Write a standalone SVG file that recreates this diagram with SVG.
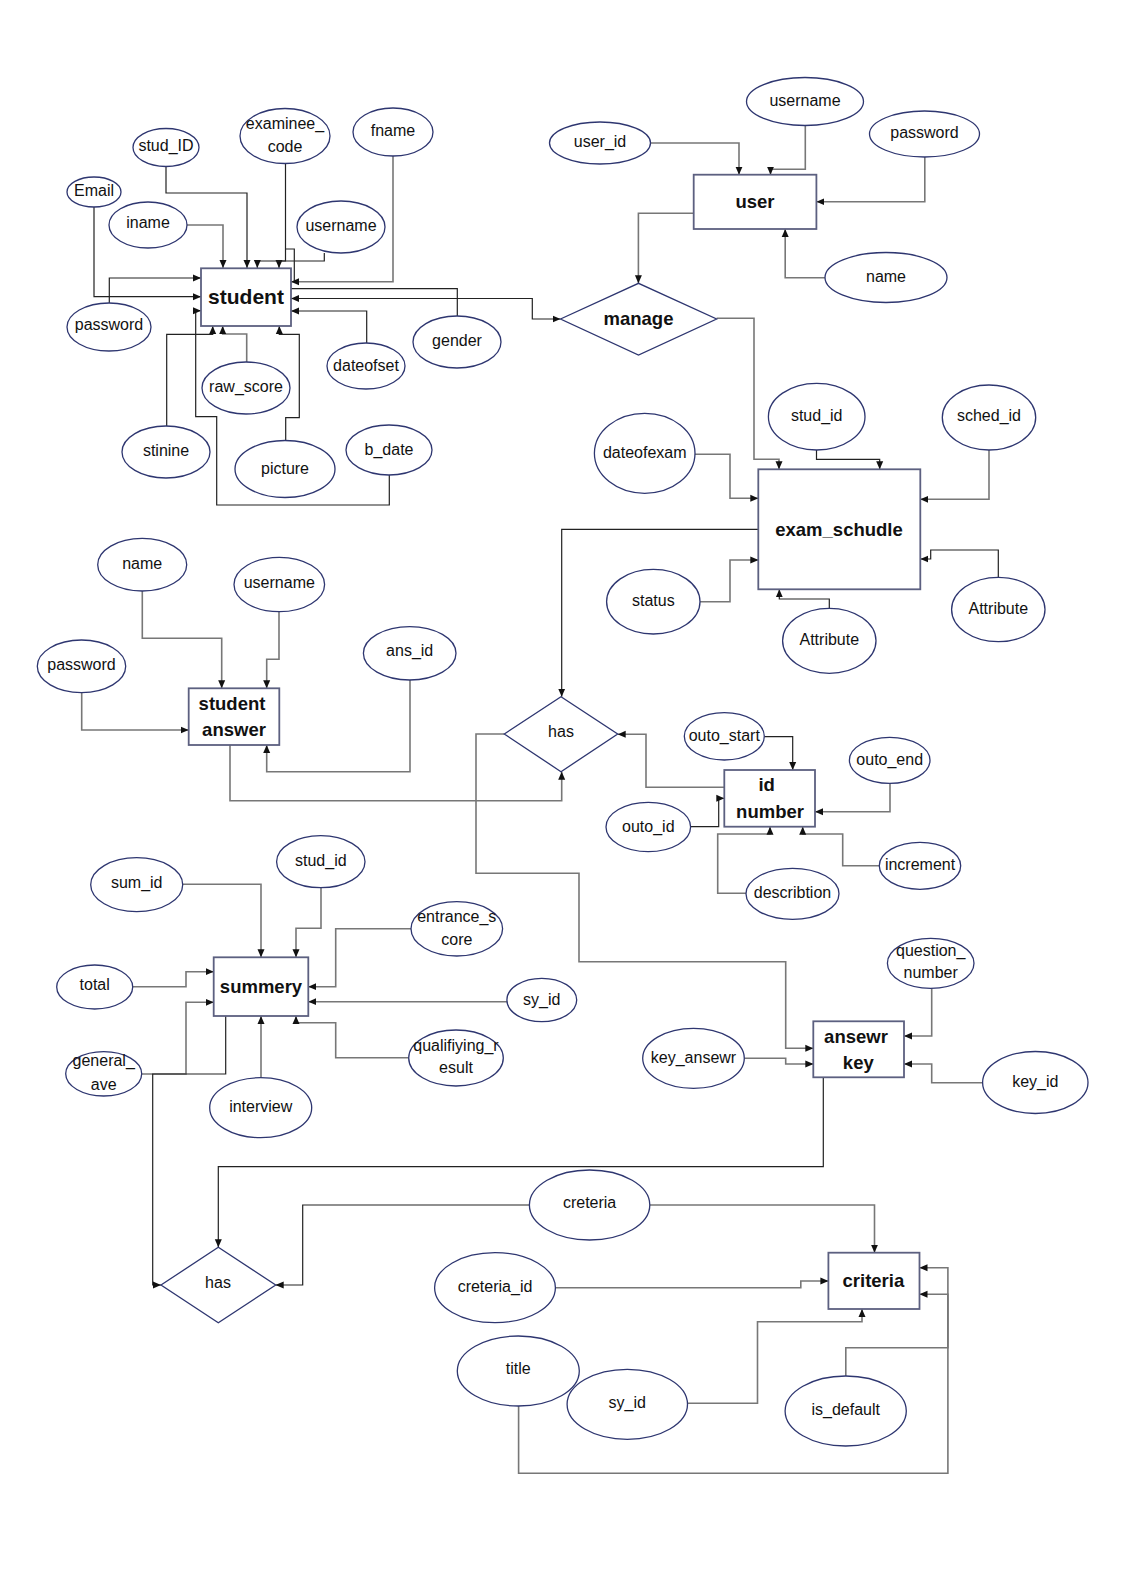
<svg xmlns="http://www.w3.org/2000/svg" width="1122" height="1587" viewBox="0 0 1122 1587">
<style>
.e{fill:#fff;stroke:#2e3670;stroke-width:1.3}
.o{fill:none}
.r{fill:#fff;stroke:#5c6080;stroke-width:1.8}
.d{fill:#fff;stroke:#2e3670;stroke-width:1.3}
text{font-family:"Liberation Sans",Arial,sans-serif;font-size:16px;fill:#111;text-anchor:middle;dominant-baseline:central}
.b{font-weight:bold;font-size:18.5px}
.g{fill:none;stroke:#777;stroke-width:1.6;marker-end:url(#a)}
.k{fill:none;stroke:#222;stroke-width:1.2;marker-end:url(#a)}
.n{marker-end:none}
</style>
<defs>
<marker id="a" viewBox="0 0 8 8" refX="8" refY="4" markerWidth="8" markerHeight="8" markerUnits="userSpaceOnUse" orient="auto-start-reverse"><path d="M0,0.5 L8,4 L0,7.5 z" fill="#111"/></marker>
</defs>
<rect width="1122" height="1587" fill="#fff"/>
<g id="connectors">
<path class="k" d="M166,166.5 V193 H247 V268"/>
<path class="g" d="M187,225 H223 V268"/>
<path class="k" d="M285.5,163.5 V261 H279 V268"/>
<path class="k n" d="M285.5,249 H294.3 V281.7"/>
<path class="k" d="M324.3,253 V261 H257.3 V268"/>
<path class="g" d="M393,156 V281.7 H291"/>
<path class="k" d="M94,207 V296.7 H201"/>
<path class="k" d="M109.3,303 V278 H201"/>
<path class="k" d="M389.3,475 V505 H216.7 V416.7 H195.7 V310.7 H201"/>
<path class="k" d="M166.7,426 V334.3 H212.7 V326"/>
<path class="g" d="M246.7,362 V334 H222.7 V326"/>
<path class="k" d="M285.7,440.5 V417.7 H299.3 V334.3 H279.3 V326"/>
<path class="k n" d="M457.3,316 V288.7 H291"/>
<path class="k" d="M366.7,343 V311 H291"/>
<path class="k" style="marker-start:url(#a)" d="M291,298.5 H532.3 V319 H560.5"/>
<path class="g" d="M651,143 H739 V174.7"/>
<path class="g" d="M805.3,125.5 V169.3 H770.5 V174.7"/>
<path class="g" d="M924.8,157 V201.7 H816.4"/>
<path class="g" d="M825,277.7 H785.2 V229"/>
<path class="g" d="M693.7,213.3 H638.4 V283.3"/>
<path class="g" d="M716.6,318.3 H754 V459.3 H779 V469.3"/>
<path class="k" d="M816.5,450 V459.3 H879.7 V469.3"/>
<path class="g" d="M695,454.3 H730 V498.3 H758.3"/>
<path class="g" d="M989,450 V499.3 H920.3"/>
<path class="g" d="M700,601.7 H730 V560 H758.3"/>
<path class="k" d="M829.3,608.3 V599 H779.3 V589.3"/>
<path class="k" d="M998.3,577.3 V550 H930.7 V559 H920.3"/>
<path class="k" d="M758.3,529.3 H561.7 V696.7"/>
<path class="g" d="M725,787.3 H646 V734.3 H617.7"/>
<path class="g" d="M230,745 V800.7 H561.7 V771.7"/>
<path class="g" d="M504.3,734 H476 V873.3 H579 V961.7 H785.7 V1048.3 H813.3"/>
<path class="k" d="M764.3,736.7 H792.7 V770"/>
<path class="g" d="M890,783.3 V811.7 H815"/>
<path class="k" d="M690.7,826.7 H718.7 V798.3 H724.3"/>
<path class="g" d="M746,893.3 H717.7 V834 H770 V826.7"/>
<path class="g" d="M879.3,865.7 H842.7 V834 H802.7 V826.7"/>
<path class="g" d="M142.3,591 V638.3 H221.7 V688.3"/>
<path class="g" d="M279,611.7 V659.3 H266.7 V688.3"/>
<path class="g" d="M81.7,692.7 V730 H188.7"/>
<path class="g" d="M410,680 V771.7 H266.7 V745"/>
<path class="g" d="M182.7,884.3 H261 V957.3"/>
<path class="g" d="M321,887.7 V928.3 H296 V957.3"/>
<path class="g" d="M411,928.7 H335.7 V986.7 H308.3"/>
<path class="g" d="M132.7,986.7 H186 V971.7 H213.7"/>
<path class="g" d="M507,1001.7 H308.3"/>
<path class="g" d="M141.7,1074 H186 V1002.3 H213.7"/>
<path class="k" d="M225.7,1016 V1074 H152.7 V1285 H161"/>
<path class="g" d="M261,1077.7 V1016"/>
<path class="g" d="M408.7,1057.7 H335.7 V1022.7 H296 V1016"/>
<path class="g" d="M931.7,988.3 V1036 H904"/>
<path class="g" d="M744.3,1058.3 H785.7 V1064 H813.3"/>
<path class="g" d="M982.7,1082.7 H931.7 V1064 H904"/>
<path class="k" d="M823.3,1077.3 V1166.7 H218.3 V1247.3"/>
<path class="k" d="M529.4,1205 H302.7 V1285 H275.7"/>
<path class="g" d="M649.8,1205 H874.5 V1252.7"/>
<path class="g" d="M555.3,1287.7 H800.8 V1281 H828.4"/>
<path class="g" d="M687.6,1403.3 H757.5 V1321.7 H862 V1309"/>
<path class="g" d="M845.8,1376 V1347.7 H947.9 V1267.7 H919.5"/>
<path class="g" d="M518.6,1406 V1473.3 H947.9 V1294.3 H919.5"/>
</g>
<g id="student"><rect class="r" x="201" y="268.3" width="90" height="57.7"/><text class="b" x="246" y="296" style="font-size:21px">student</text></g>
<g id="stud_ID"><ellipse class="e" cx="166" cy="147.5" rx="33" ry="19"/><text x="166" y="145">stud_ID</text></g>
<g id="examinee_code"><ellipse class="e" cx="285" cy="136" rx="45" ry="27.5"/><text x="285" y="123">examinee_</text><text x="285" y="146">code</text></g>
<g id="fname"><ellipse class="e" cx="393" cy="132" rx="40" ry="24"/><text x="393" y="130.7">fname</text></g>
<g id="email"><ellipse class="e" cx="94" cy="192" rx="27" ry="15"/><text x="94" y="190">Email</text></g>
<g id="iname"><ellipse class="e" cx="148" cy="225" rx="39" ry="23"/><text x="148" y="222.7">iname</text></g>
<g id="student_username"><ellipse class="e" cx="341" cy="227" rx="44" ry="26"/><text x="341" y="225.7">username</text></g>
<g id="student_password"><ellipse class="e" cx="109" cy="327" rx="42" ry="24"/><text x="109" y="324.3">password</text></g>
<g id="gender"><ellipse class="e" cx="457" cy="342" rx="44" ry="26"/><text x="457" y="340.7">gender</text></g>
<g id="dateofset"><ellipse class="e" cx="366" cy="366" rx="39" ry="23"/><text x="366" y="365">dateofset</text></g>
<g id="raw_score"><ellipse class="e" cx="246" cy="388" rx="44" ry="26"/><text x="246" y="386.7">raw_score</text></g>
<g id="stinine"><ellipse class="e" cx="166" cy="452" rx="44" ry="26"/><text x="166" y="450.7">stinine</text></g>
<g id="picture"><ellipse class="e" cx="285" cy="469" rx="50" ry="28.5"/><text x="285" y="468.3">picture</text></g>
<g id="b_date"><ellipse class="e" cx="389" cy="450" rx="43" ry="25"/><text x="389" y="449.3">b_date</text></g>
<g id="user"><rect class="r" x="693.7" y="174.7" width="122.7" height="54.3"/><text class="b" x="755" y="201">user</text></g>
<g id="user_username"><ellipse class="e" cx="805" cy="101.5" rx="58.5" ry="24"/><text x="805" y="100">username</text></g>
<g id="user_id"><ellipse class="e" cx="600" cy="143" rx="50.5" ry="21"/><text x="600" y="141.5">user_id</text></g>
<g id="user_password"><ellipse class="e" cx="924.5" cy="134" rx="55" ry="23"/><text x="924.5" y="132">password</text></g>
<g id="user_name"><ellipse class="e" cx="886" cy="277.5" rx="61" ry="25"/><text x="886" y="276">name</text></g>
<g id="manage"><polygon class="d" points="560.5,319 638.5,283.3 716.6,319 638.5,355"/><text class="b" x="638.5" y="318">manage</text></g>
<g id="exam_schudle"><rect class="r" x="758.3" y="469.3" width="162" height="120"/><text class="b" x="839" y="529">exam_schudle</text></g>
<g id="exam_stud_id"><ellipse class="e" cx="816.7" cy="416.7" rx="48.3" ry="33.3"/><text x="816.7" y="415">stud_id</text></g>
<g id="sched_id"><ellipse class="e" cx="989" cy="417.5" rx="46.7" ry="32.5"/><text x="989" y="415.5">sched_id</text></g>
<g id="dateofexam"><ellipse class="e" cx="644.7" cy="453.3" rx="50.3" ry="40"/><text x="644.7" y="452.7">dateofexam</text></g>
<g id="status"><ellipse class="e" cx="653.3" cy="601.7" rx="46.7" ry="32.3"/><text x="653.3" y="600">status</text></g>
<g id="attribute1"><ellipse class="e" cx="829.3" cy="640.8" rx="46.7" ry="32.5"/><text x="829.3" y="639">Attribute</text></g>
<g id="attribute2"><ellipse class="e" cx="998.3" cy="609.5" rx="46.7" ry="32.2"/><text x="998.3" y="608">Attribute</text></g>
<g id="student_answer"><rect class="r" x="188.7" y="688.3" width="90.6" height="56.7"/><text class="b" x="232" y="703.3">student</text><text class="b" x="234" y="729.3">answer</text></g>
<g id="sa_name"><ellipse class="e" cx="142.2" cy="564.7" rx="44.5" ry="26.3"/><text x="142.2" y="563.3">name</text></g>
<g id="sa_username"><ellipse class="e" cx="279.3" cy="584.5" rx="45.3" ry="27.2"/><text x="279.3" y="582.7">username</text></g>
<g id="sa_password"><ellipse class="e" cx="81.5" cy="666.3" rx="44.2" ry="26.3"/><text x="81.5" y="664">password</text></g>
<g id="ans_id"><ellipse class="e" cx="409.7" cy="653.3" rx="46.3" ry="26.7"/><text x="409.7" y="650.7">ans_id</text></g>
<g id="has1"><polygon class="d" points="504.3,734 561,696.7 617.7,734 561,771.7"/><text x="561" y="731.7">has</text></g>
<g id="id_number"><rect class="r" x="724.3" y="770" width="90.7" height="56.7"/><text class="b" x="766.7" y="784.3">id</text><text class="b" x="770" y="811.7">number</text></g>
<g id="outo_start"><ellipse class="e" cx="724.3" cy="736.3" rx="40" ry="23.7"/><text x="724.3" y="735">outo_start</text></g>
<g id="outo_end"><ellipse class="e" cx="889.7" cy="760.3" rx="40.3" ry="23"/><text x="889.7" y="759">outo_end</text></g>
<g id="outo_id"><ellipse class="e" cx="648.3" cy="827" rx="42.3" ry="24.7"/><text x="648.3" y="826">outo_id</text></g>
<g id="increment"><ellipse class="e" cx="920" cy="865.8" rx="40.7" ry="23.5"/><text x="920" y="864.7">increment</text></g>
<g id="describtion"><ellipse class="e" cx="792.5" cy="893.8" rx="46.5" ry="25.5"/><text x="792.5" y="892.7">describtion</text></g>
<g id="summery"><rect class="r" x="213.7" y="957.3" width="94.6" height="58.7"/><text class="b" x="261" y="986">summery</text></g>
<g id="sum_id"><ellipse class="e" cx="136.7" cy="884.7" rx="46" ry="27"/><text x="136.7" y="882.7">sum_id</text></g>
<g id="sum_stud_id"><ellipse class="e" cx="320.8" cy="861.7" rx="44.2" ry="26"/><text x="320.8" y="860">stud_id</text></g>
<g id="entrance_score"><ellipse class="e" cx="456.8" cy="928.8" rx="45.8" ry="27.2"/><text x="456.8" y="916">entrance_s</text><text x="456.8" y="939">core</text></g>
<g id="total"><ellipse class="e" cx="94.7" cy="987" rx="38" ry="22"/><text x="94.7" y="984.3">total</text></g>
<g id="sum_sy_id"><ellipse class="e" cx="541.8" cy="1000" rx="34.9" ry="21.7"/><text x="541.8" y="999">sy_id</text></g>
<g id="general_ave"><ellipse class="e" cx="103.7" cy="1073.8" rx="38" ry="22.2"/><text x="103.7" y="1060.7">general_</text><text x="103.7" y="1084">ave</text></g>
<g id="interview"><ellipse class="e" cx="260.7" cy="1107.7" rx="51" ry="30"/><text x="260.7" y="1106">interview</text></g>
<g id="qualifiying_result"><ellipse class="e" cx="456" cy="1058" rx="47.3" ry="28"/><text x="456" y="1045.7">qualifiying_r</text><text x="456" y="1067.7">esult</text></g>
<g id="answer_key"><rect class="r" x="813.3" y="1021.3" width="90.7" height="56"/><text class="b" x="856" y="1036">ansewr</text><text class="b" x="858.3" y="1062.7">key</text></g>
<g id="question_number"><ellipse class="e" cx="930.7" cy="963.3" rx="43.3" ry="25"/><text x="930.7" y="950.7">question_</text><text x="930.7" y="972.7">number</text></g>
<g id="key_ansewr"><ellipse class="e" cx="693.5" cy="1058.3" rx="50.8" ry="30"/><text x="693.5" y="1057">key_ansewr</text></g>
<g id="key_id"><ellipse class="e" cx="1035.3" cy="1082.5" rx="52.7" ry="31"/><text x="1035.3" y="1081">key_id</text></g>
<g id="has2"><polygon class="d" points="161,1285 218.3,1247.3 275.7,1285 218.3,1322.7"/><text x="218" y="1282.7">has</text></g>
<g id="criteria"><rect class="r" x="828.4" y="1252.7" width="91.1" height="56.3"/><text class="b" x="873.4" y="1280">criteria</text></g>
<g id="creteria"><ellipse class="e" cx="589.6" cy="1205" rx="60.2" ry="35"/><text x="589.6" y="1202.7">creteria</text></g>
<g id="creteria_id"><ellipse class="e" cx="495" cy="1287.7" rx="60.4" ry="35"/><text x="495" y="1286">creteria_id</text></g>
<g id="title"><ellipse class="e o" cx="518.3" cy="1371" rx="61" ry="35"/><text x="518.3" y="1368.7">title</text></g>
<g id="crit_sy_id"><ellipse class="e o" cx="627.3" cy="1404.3" rx="60.2" ry="35"/><text x="627.3" y="1402">sy_id</text></g>
<g id="is_default"><ellipse class="e" cx="845.7" cy="1411" rx="60.6" ry="35"/><text x="845.7" y="1409">is_default</text></g>
</svg>
